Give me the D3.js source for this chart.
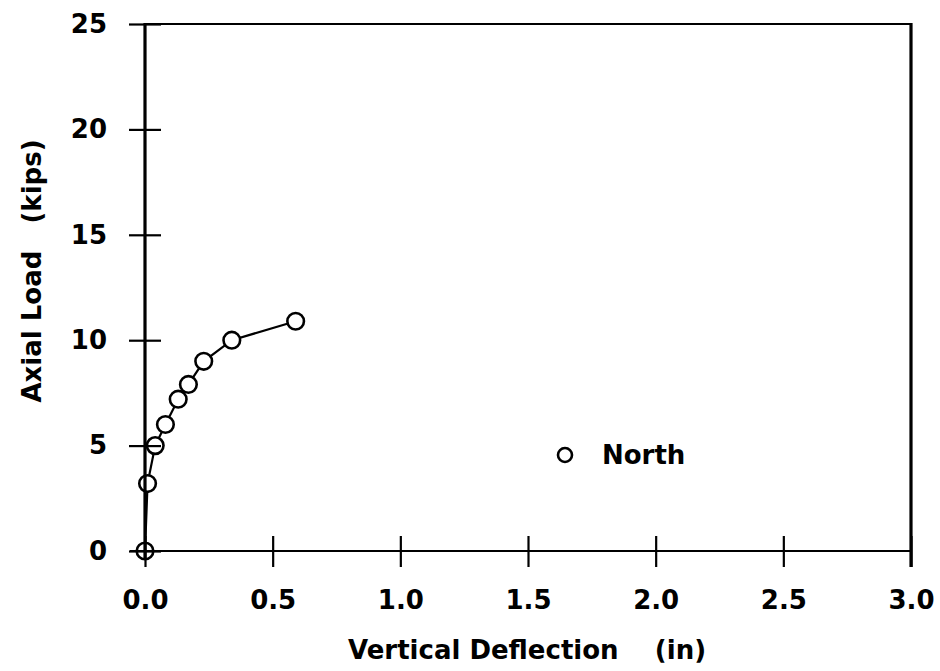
<!DOCTYPE html>
<html>
<head>
<meta charset="utf-8">
<script src="https://cdn.jsdelivr.net/npm/d3@7"></script>
<style>
  html, body { margin: 0; padding: 0; background: #fff; }
  svg { display: block; }
  text { font-family: "DejaVu Sans", sans-serif; font-weight: bold; fill: #000; }
</style>
</head>
<body>
<svg id="chart" width="940" height="671"></svg>
<script>
// Load–deflection readings, North specimen
const deflection = [0.00, 0.01, 0.04, 0.08, 0.13, 0.17, 0.23, 0.34, 0.59];
const axialLoad  = [0.0, 3.2, 5.0, 6.0, 7.2, 7.9, 9.0, 10.0, 10.9];
const xTicks = [0.0, 0.5, 1.0, 1.5, 2.0, 2.5, 3.0];
const yTicks = [0, 5, 10, 15, 20, 25];
const seriesName = "North";

const svg = d3.select("#chart");
const plotLeft = 145, plotRight = 911, plotTop = 24, plotBottom = 551;
const fontSize = 26;

const x = d3.scaleLinear().domain([0, 3]).range([plotLeft, plotRight]);
const y = d3.scaleLinear().domain([0, 25]).range([plotBottom, plotTop]);

const pts = deflection.map((d, i) => ({ x: d, y: axialLoad[i] }));

// connecting line and open markers
svg.append("path")
  .datum(pts)
  .attr("fill", "none")
  .attr("stroke", "#000")
  .attr("stroke-width", 2.2)
  .attr("d", d3.line().x(d => x(d.x)).y(d => y(d.y)));

svg.append("g").selectAll("circle")
  .data(pts)
  .join("circle")
  .attr("cx", d => x(d.x))
  .attr("cy", d => y(d.y))
  .attr("r", 8.3)
  .attr("fill", "#fff")
  .attr("stroke", "#000")
  .attr("stroke-width", 2.6);

// frame: top and right edges
svg.append("line").attr("x1", plotLeft).attr("x2", plotRight).attr("y1", plotTop).attr("y2", plotTop)
  .attr("stroke", "#000").attr("stroke-width", 2.2);
svg.append("line").attr("x1", plotRight).attr("x2", plotRight).attr("y1", plotTop - 1).attr("y2", plotBottom + 16)
  .attr("stroke", "#000").attr("stroke-width", 3.2);

// bottom axis with ticks crossing the line
const xAxis = svg.append("g")
  .attr("transform", `translate(0,${plotBottom})`)
  .call(d3.axisBottom(x).tickValues(xTicks).tickFormat(d3.format(".1f")).tickSize(16).tickPadding(24));
xAxis.select(".domain").remove();
xAxis.append("line").attr("x1", plotLeft - 15).attr("x2", plotRight).attr("y1", 0).attr("y2", 0)
  .attr("stroke", "#000").attr("stroke-width", 2.2);
xAxis.selectAll(".tick line").attr("y1", -15).attr("y2", 16).attr("stroke-width", 2.2);
xAxis.selectAll(".tick text")
  .style("font-family", "'DejaVu Sans', sans-serif").style("font-weight", "bold")
  .attr("font-size", fontSize);

// left axis with ticks crossing the line
const yAxis = svg.append("g")
  .attr("transform", `translate(${plotLeft},0)`)
  .call(d3.axisLeft(y).tickValues(yTicks).tickFormat(d3.format("d")).tickSize(16).tickPadding(22));
yAxis.select(".domain").remove();
yAxis.append("line").attr("x1", 0).attr("x2", 0).attr("y1", plotTop - 1).attr("y2", plotBottom + 7)
  .attr("stroke", "#000").attr("stroke-width", 3.2);
yAxis.selectAll(".tick line").attr("x1", -16).attr("x2", 16).attr("stroke-width", 2.2);
yAxis.selectAll(".tick text")
  .style("font-family", "'DejaVu Sans', sans-serif").style("font-weight", "bold")
  .attr("font-size", fontSize);

// axis titles
svg.append("text")
  .attr("x", 527).attr("y", 659)
  .attr("text-anchor", "middle")
  .attr("font-size", fontSize)
  .style("white-space", "pre")
  .text("Vertical Deflection    (in)");

svg.append("text")
  .attr("transform", "translate(41,271) rotate(-90)")
  .attr("text-anchor", "middle")
  .attr("font-size", fontSize)
  .style("white-space", "pre")
  .text("Axial Load   (kips)");

// legend
svg.append("circle")
  .attr("cx", 565).attr("cy", 455).attr("r", 7)
  .attr("fill", "#fff").attr("stroke", "#000").attr("stroke-width", 2.6);
svg.append("text")
  .attr("x", 602).attr("y", 464)
  .attr("font-size", fontSize)
  .text(seriesName);
</script>
</body>
</html>
